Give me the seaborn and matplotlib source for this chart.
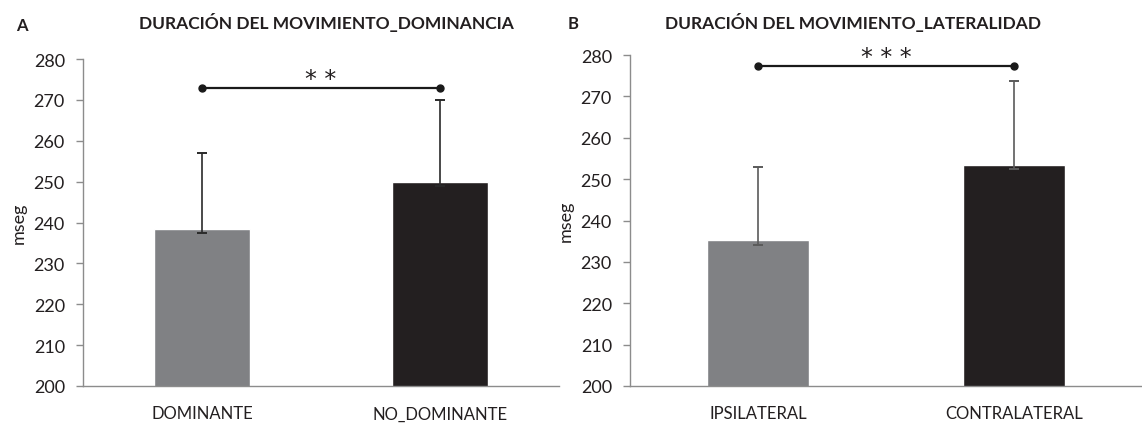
import matplotlib
matplotlib.use("Agg")
import matplotlib.pyplot as plt
import seaborn as sns
import pandas as pd
import numpy as np

# Movement duration (ms) by hand dominance
dom_categories = ["DOMINANTE", "NO_DOMINANTE"]
dom_means = [238.5, 250.0]
dom_err_low = [237.5, 249.0]
dom_err_high = [257.0, 270.0]
dom_sig_y = 273.0
dom_sig_label = "* *"

# Movement duration (ms) by laterality
lat_categories = ["IPSILATERAL", "CONTRALATERAL"]
lat_means = [235.2, 253.5]
lat_err_low = [234.1, 252.5]
lat_err_high = [253.0, 273.7]
lat_sig_y = 277.3
lat_sig_label = "* * *"

bar_colors = ["#808184", "#231f20"]
yticks = list(range(200, 281, 10))

sns.set_theme(style="white")
plt.rcParams["font.family"] = ["Lato", "DejaVu Sans"]

W, H = 1142, 427
fig = plt.figure(figsize=(W / 100, H / 100), dpi=100)

axis_gray = "#8c8c8c"


def panel(rect, cats, means, lows, highs, sig_y, sig_label, title, letter,
          letter_xy, title_x, xmax, err_color):
    ax = fig.add_axes(rect)
    df = pd.DataFrame({"cat": cats, "val": means})
    sns.barplot(data=df, x="cat", y="val", hue="cat", palette=bar_colors,
                width=0.4, legend=False, errorbar=None, ax=ax,
                saturation=1, zorder=2)
    x = np.arange(len(cats))
    m = np.array(means)
    yerr = [m - np.array(lows), np.array(highs) - m]
    ax.errorbar(x, m, yerr=yerr, fmt="none", ecolor=err_color,
                elinewidth=1.2, capsize=3.5, capthick=1.4, zorder=3)
    # significance bracket
    ax.plot([x[0], x[-1]], [sig_y, sig_y], color="#1a1a1a", lw=1.6,
            marker="o", markersize=5, zorder=4, clip_on=False)
    ax.text((x[0] + x[-1]) / 2, sig_y + 2.2, sig_label, ha="center",
            va="center", fontsize=17, family="DejaVu Sans",
            color="#231f20")

    ax.set_ylim(200, 280)
    ax.set_xlim(-0.5, xmax)
    ax.set_yticks(yticks)
    ax.set_yticklabels([str(t) for t in yticks], fontsize=13,
                       color="#231f20")
    ax.set_xticks(x)
    ax.set_xticklabels(cats, fontsize=12, color="#231f20")
    ax.set_xticks([-0.5, 0.5, 1.5], minor=True)
    ax.tick_params(axis="x", which="major", length=0, pad=14)
    ax.tick_params(axis="x", which="minor", length=5, width=1,
                   color=axis_gray, direction="out")
    ax.tick_params(axis="y", length=5, width=1, color=axis_gray,
                   direction="out", pad=8, left=True)
    ax.set_xlabel("")
    ax.set_ylabel("mseg", fontsize=13, color="#231f20", labelpad=5)
    for s in ["top", "right"]:
        ax.spines[s].set_visible(False)
    for s in ["left", "bottom"]:
        ax.spines[s].set_color(axis_gray)
        ax.spines[s].set_linewidth(1.0)
    fig.text(title_x / W, 1 - 22 / H, title, ha="center", va="center",
             fontsize=12.5, fontweight="bold", color="#231f20")
    fig.text(letter_xy[0] / W, 1 - letter_xy[1] / H, letter, ha="center",
             va="center", fontsize=12, fontweight="bold", color="#231f20")
    return ax


bottom = 1 - 387 / H
panel([83 / W, bottom, (559 - 83) / W, (387 - 60) / H],
      dom_categories, dom_means, dom_err_low, dom_err_high,
      dom_sig_y, dom_sig_label, "DURACIÓN DEL MOVIMIENTO_DOMINANCIA",
      "A", (22, 26), 326, 1.5, "#2a2a2a")
panel([630 / W, bottom, (W - 630) / W, (387 - 56) / H],
      lat_categories, lat_means, lat_err_low, lat_err_high,
      lat_sig_y, lat_sig_label, "DURACIÓN DEL MOVIMIENTO_LATERALIDAD",
      "B", (573, 24), 853, -0.5 + (W - 630) / 260, "#5a5a5a")

fig.savefig("out.png", dpi=100, facecolor="white")
